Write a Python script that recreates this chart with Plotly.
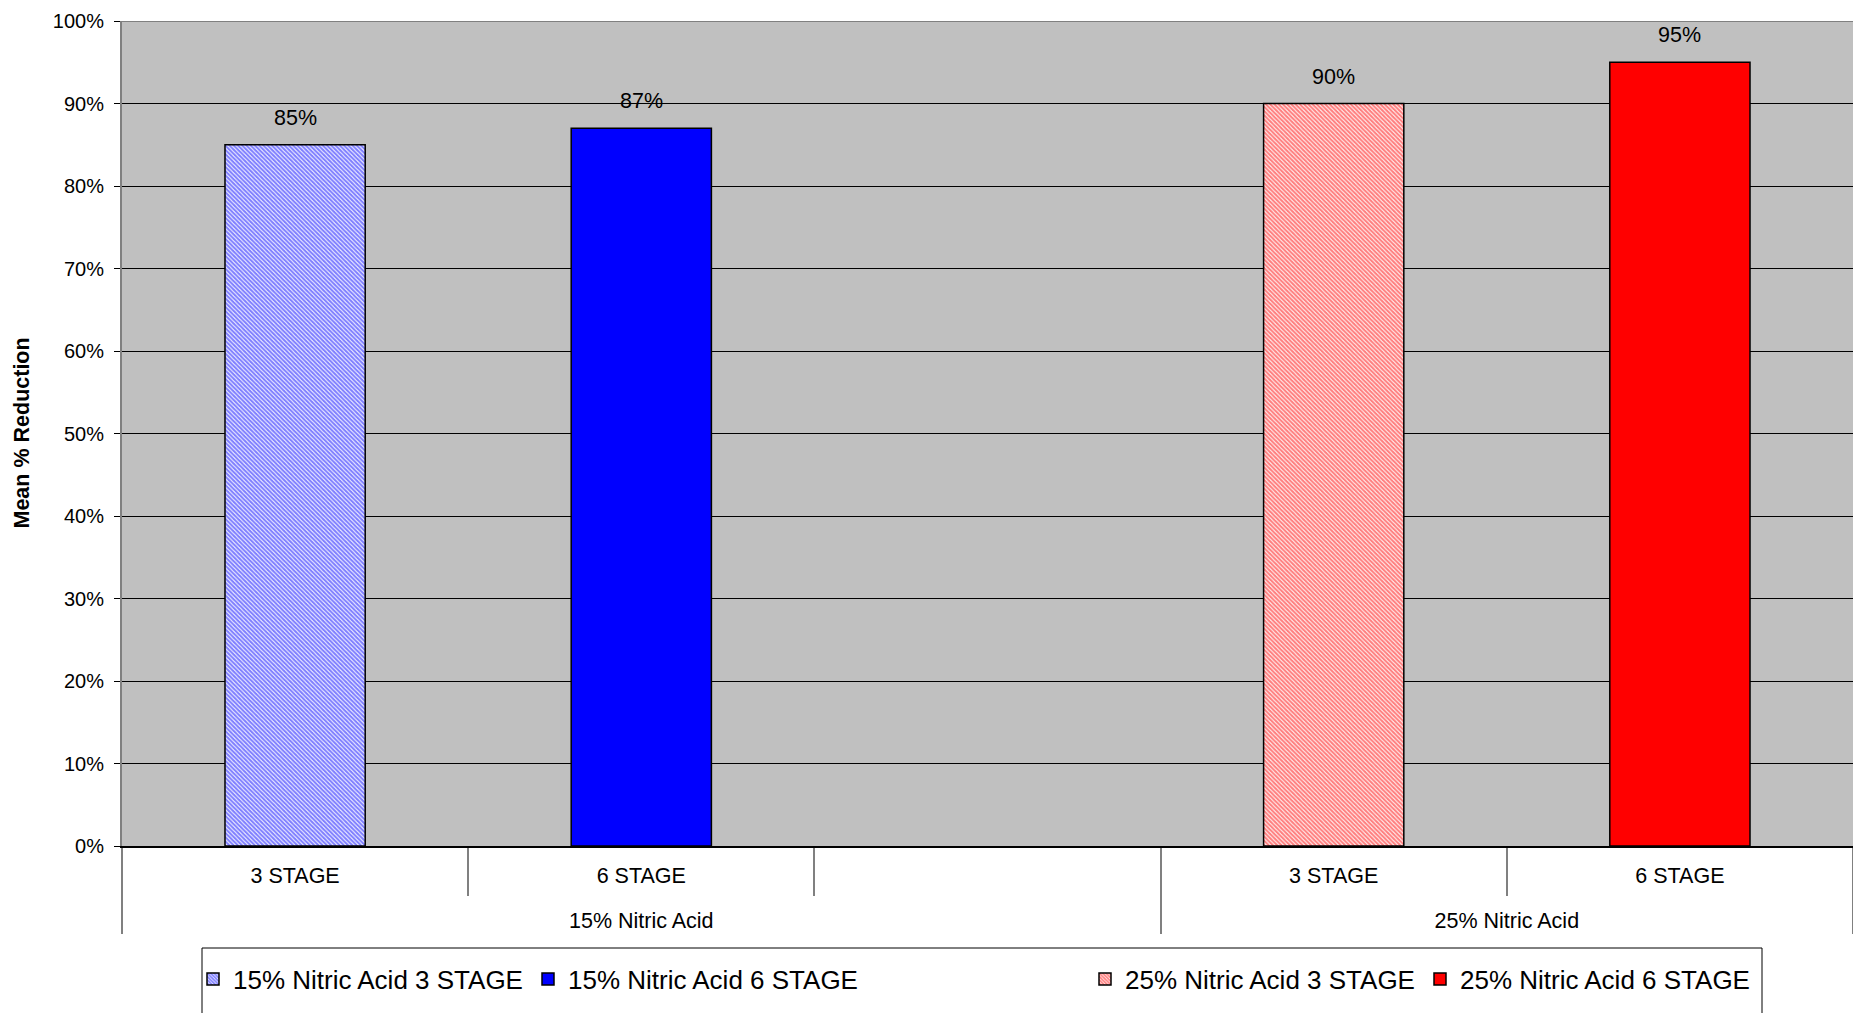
import plotly.graph_objects as go

# ---- data ----
groups = ["15% Nitric Acid", "15% Nitric Acid", "15% Nitric Acid", "25% Nitric Acid", "25% Nitric Acid"]
stages = ["3 STAGE", "6 STAGE", "\u00a0", "3 STAGE", "6 STAGE"]
series_names = ["15% Nitric Acid 3 STAGE", "15% Nitric Acid 6 STAGE",
                "25% Nitric Acid 3 STAGE", "25% Nitric Acid 6 STAGE"]
series_group = ["15% Nitric Acid", "15% Nitric Acid", "25% Nitric Acid", "25% Nitric Acid"]
series_stage = ["3 STAGE", "6 STAGE", "3 STAGE", "6 STAGE"]
series_values = [85, 87, 90, 95]
y_ticks = [0, 10, 20, 30, 40, 50, 60, 70, 80, 90, 100]
y_tick_labels = [f"{v}%" for v in y_ticks]

# ---- styles ----
FONT = "Liberation Sans"
styles = [
    dict(color="white", pattern=dict(shape="\\", fgcolor="#0000FF", bgcolor="white", size=3, solidity=0.7, fillmode="overlay")),
    dict(color="#0000FF"),
    dict(color="white", pattern=dict(shape="\\", fgcolor="#FF0000", bgcolor="white", size=3, solidity=0.7, fillmode="overlay")),
    dict(color="#FF0000"),
]
legend_ids = ["legend", "legend", "legend2", "legend2"]


def axis_group(g):
    # outer (group) label sits one line lower, below the stage labels
    return "<br>" + g


fig = go.Figure()
# establishes category order (incl. the empty slot)
fig.add_trace(go.Bar(x=[[axis_group(g) for g in groups], stages], y=[None] * len(stages), showlegend=False,
                     hoverinfo="skip", marker=dict(color="rgba(0,0,0,0)")))

for name, g, s, v, st, lg in zip(series_names, series_group, series_stage, series_values, styles, legend_ids):
    fig.add_trace(go.Bar(
        x=[[axis_group(g)], [s]], y=[v], name=name, width=0.405,
        marker=dict(**st, line=dict(color="black", width=1.5)),
        legend=lg,
    ))
    fig.add_annotation(x=(axis_group(g), s), y=v, text=f"{v}%", showarrow=False,
                       yanchor="bottom", yshift=13, font=dict(family=FONT, size=21.5, color="black"))

LEG_Y = 1 - 979 / 1013
fig.update_layout(
    width=1853, height=1013,
    margin=dict(l=122, r=0, t=21, b=167),
    paper_bgcolor="white", plot_bgcolor="#C0C0C0",
    barmode="overlay",
    font=dict(family=FONT, color="black"),
    showlegend=True,
    legend=dict(orientation="h", xref="container", yref="container", x=193 / 1853, y=LEG_Y,
                xanchor="left", yanchor="middle", entrywidth=290, bgcolor="rgba(0,0,0,0)",
                font=dict(family=FONT, size=26, color="black")),
    legend2=dict(orientation="h", xref="container", yref="container", x=1085 / 1853, y=LEG_Y,
                 xanchor="left", yanchor="middle", entrywidth=290, bgcolor="rgba(0,0,0,0)",
                 font=dict(family=FONT, size=26, color="black")),
)

fig.update_yaxes(
    range=[0, 100], tickvals=y_ticks, ticktext=y_tick_labels,
    ticks="outside", ticklen=6, tickcolor="black", tickwidth=1,
    showgrid=True, gridcolor="black", gridwidth=1, zeroline=False,
    showline=True, linecolor="#808080", linewidth=2,
    tickfont=dict(family=FONT, size=20, color="black"), ticklabelstandoff=6,
)
fig.update_xaxes(
    type="multicategory", tickson="boundaries", ticks="outside", ticklen=48,
    tickcolor="#808080", tickwidth=1.5, showgrid=False, zeroline=False,
    showline=True, linecolor="black", linewidth=2,
    showdividers=True, dividercolor="#808080", dividerwidth=1.5,
    tickfont=dict(family=FONT, size=21.5, color="black"), ticklabelstandoff=9,
)

# top border of plot area
fig.add_shape(type="line", xref="paper", yref="y", x0=0, x1=1, y0=100, y1=100,
              line=dict(color="#808080", width=2), layer="above")
# legend frame
fig.add_shape(type="rect", xref="paper", yref="paper", x0=(202 - 122) / 1731, x1=(1762 - 122) / 1731,
              y0=-0.3, y1=(846 - 948) / 825, line=dict(color="black", width=1), fillcolor="rgba(0,0,0,0)")

fig.add_annotation(text="<b>Mean % Reduction</b>", xref="paper", yref="paper", x=0, y=0.5,
                   xanchor="center", yanchor="middle", xshift=-101, textangle=-90, showarrow=False,
                   font=dict(family=FONT, size=21.5, color="black"))

fig.write_html("out.html")
